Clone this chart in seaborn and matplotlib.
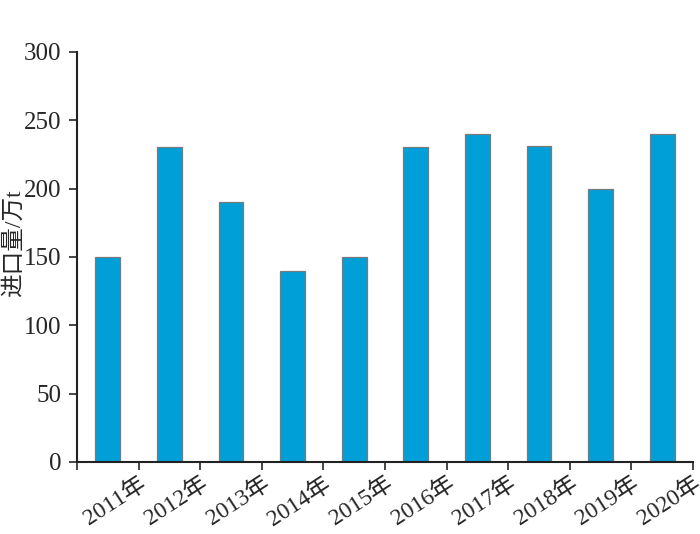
import numpy as np
import pandas as pd
import matplotlib
matplotlib.use("Agg")
import matplotlib.pyplot as plt
import seaborn as sns

# data
years = ["2011年", "2012年", "2013年", "2014年", "2015年",
         "2016年", "2017年", "2018年", "2019年", "2020年"]
imports = [150, 230, 190, 140, 150, 230, 240, 231, 200, 240]
y_ticks = [0, 50, 100, 150, 200, 250, 300]

df = pd.DataFrame({"year": years, "value": imports})

sns.set_style("white")
plt.rcParams["font.family"] = ["Liberation Serif", "Noto Sans CJK SC"]

fig = plt.figure(figsize=(7, 5.34), dpi=100)
ax = fig.add_axes([0.11, 0.135, 0.88, 0.768])

sns.barplot(data=df, x="year", y="value", color="#009fd8", saturation=1,
            width=0.4, edgecolor="#7a7a7a", linewidth=0.9, ax=ax)

ax.set_xlim(-0.5, len(years) - 0.5)
ax.set_ylim(0, 300)
ax.set_yticks(y_ticks)
ax.tick_params(axis="y", direction="out", length=6, width=1.2,
               labelsize=18, left=True, pad=5)

# x ticks sit on the category boundaries
ax.set_xticks(np.arange(len(years)) + 0.5)
ax.set_xticks([-0.5], minor=True)
ax.set_xticklabels(years, rotation=33, ha="right", rotation_mode="anchor",
                   fontsize=17)
ax.tick_params(axis="x", which="both", direction="out", length=6,
               width=1.2, bottom=True, pad=2)

for side in ["top", "right"]:
    ax.spines[side].set_visible(False)
for side in ["left", "bottom"]:
    ax.spines[side].set_linewidth(1.5)
    ax.spines[side].set_color("#222222")

ax.set_xlabel("")
ax.set_ylabel("进口量/万t", fontsize=17)
ax.yaxis.set_label_coords(-0.084, 0.534)

fig.savefig("out.png", dpi=100)
